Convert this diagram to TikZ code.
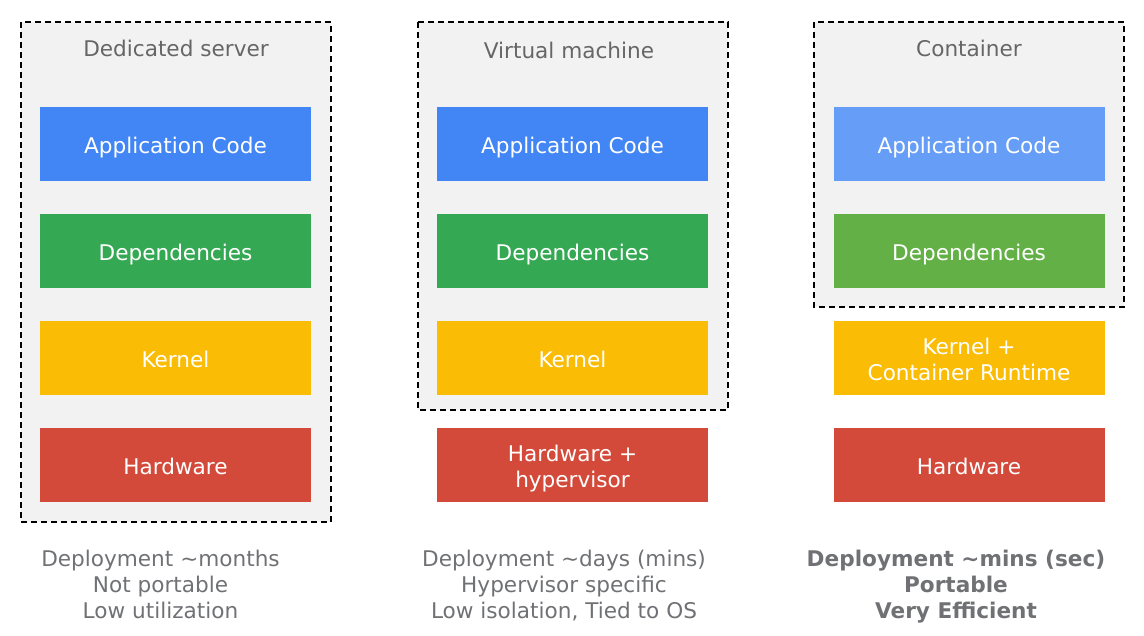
\documentclass[tikz,border=0pt]{standalone}
\usepackage{fontspec}
\setmainfont{DejaVu Sans}
\definecolor{cblue}{HTML}{4285F4}
\definecolor{cbluelt}{HTML}{669DF6}
\definecolor{cgreen}{HTML}{34A853}
\definecolor{cgreenlt}{HTML}{63B046}
\definecolor{cyellow}{HTML}{FABC05}
\definecolor{cred}{HTML}{D44A3A}
\definecolor{boxfill}{HTML}{F2F2F2}
\definecolor{titlegray}{HTML}{666666}
\definecolor{notegray}{HTML}{707174}
\begin{document}
\begin{tikzpicture}[x=0.75pt,y=-0.75pt,
  capbox/.style={font=\fontsize{16.2}{19.5}\selectfont,text height=14pt,text depth=0pt},
  twolines/.style={text height=33.5pt},
  threelines/.style={text height=53pt},
  layer/.style={capbox,rectangle,inner sep=0pt,minimum width=271*0.75pt,minimum height=74*0.75pt,
    text=white,align=center},
  envbox/.style={draw=black,fill=boxfill,line width=1.6pt,dash pattern=on 4.5pt off 3pt},
  boxtitle/.style={capbox,text=titlegray},
  note/.style={capbox,threelines,text=notegray,align=center}]
\useasboundingbox (0,0) rectangle (1144,635);
% environment boxes
\draw[envbox] (21,22) rectangle (331,522);
\draw[envbox] (418,22) rectangle (728,410);
\draw[envbox] (814,22) rectangle (1124,307);
\node[boxtitle] (t1) at (176,47) {Dedicated server};
\node[boxtitle] (t2) at (569,49) {Virtual machine};
\node[boxtitle] (t3) at (969,47) {Container};
% column 1
\node[layer,fill=cblue] (a1) at (175.5,144) {Application Code};
\node[layer,fill=cgreen] (d1) at (175.5,251) {Dependencies};
\node[layer,fill=cyellow] (k1) at (175.5,358) {Kernel};
\node[layer,fill=cred] (h1) at (175.5,465) {Hardware};
% column 2
\node[layer,fill=cblue] (a2) at (572.5,144) {Application Code};
\node[layer,fill=cgreen] (d2) at (572.5,251) {Dependencies};
\node[layer,fill=cyellow] (k2) at (572.5,358) {Kernel};
\node[layer,twolines,fill=cred] (h2) at (572.5,465) {Hardware +\\hypervisor};
% column 3
\node[layer,fill=cbluelt] (a3) at (969,144) {Application Code};
\node[layer,fill=cgreenlt] (d3) at (969,251) {Dependencies};
\node[layer,twolines,fill=cyellow] (k3) at (969,358) {Kernel +\\Container Runtime};
\node[layer,fill=cred] (h3) at (969,465) {Hardware};
% notes
\node[note] (n1) at (160.5,583) {Deployment \textasciitilde months\\Not portable\\Low utilization};
\node[note] (n2) at (564,583) {Deployment \textasciitilde days (mins)\\Hypervisor specific\\Low isolation, Tied to OS};
\node[note,font=\fontsize{16.2}{19.5}\selectfont\bfseries] (n3) at (956,583) {Deployment \textasciitilde mins (sec)\\Portable\\Very Efficient};
\end{tikzpicture}
\end{document}
